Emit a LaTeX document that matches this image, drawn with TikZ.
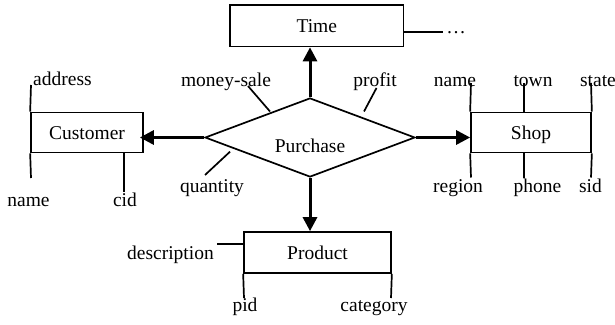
\documentclass[tikz,border=0pt]{standalone}
\usepackage{fontspec}
\setmainfont{Liberation Serif}
\usetikzlibrary{shapes.geometric,arrows.meta}
\begin{document}
\begin{tikzpicture}[x=1pt,y=-1pt,
  font=\fontsize{19.5}{23}\selectfont,
  entity/.style={draw, line width=1.7pt, inner sep=0pt, text height=13pt, text depth=0pt},
  rel/.style={draw, diamond, line width=1.7pt, inner sep=0pt, minimum width=210pt, minimum height=79pt},
  lbl/.style={inner sep=0pt, anchor=base},
  arr/.style={line width=3pt, -{Triangle[length=14pt,width=14pt]}},
  attr/.style={line width=1.7pt}]
\useasboundingbox (0,0) rectangle (615,324);

% entities and relationship
\node[entity, minimum width=173.5pt, minimum height=41.5pt] (time) at (316.75,25.75) {Time};
\node[entity, minimum width=112pt, minimum height=40pt] (cust) at (87,132.5) {Customer};
\node[entity, minimum width=120pt, minimum height=40pt] (shop) at (531,132.5) {Shop};
\node[entity, minimum width=147pt, minimum height=41pt] (prod) at (317.5,252.5) {Product};
\node[rel] (pur) at (310,137.5) {};
\node[lbl] (purt) at (310,152) {Purchase};

% arrows
\draw[arr] (pur.north) -- (pur.north |- time.south);
\draw[arr, shorten >=-4pt] (pur.west) -- (pur.west -| cust.east);
\draw[arr] (pur.east) -- (pur.east -| shop.west);
\draw[arr] (pur.south) -- (pur.south |- prod.north);

% Time attribute
\coordinate (tdots) at (443,32);
\draw[attr] (tdots -| time.east) -- (tdots);
\node[lbl] (ttdots) at (456,33.5) {…};

% relationship attributes
\coordinate (ms1) at (270,111.5); \coordinate (ms2) at (248,86);
\draw[attr] (ms1) -- (ms2);
\node[lbl] (tms) at (226,86) {money-sale};
\coordinate (pf1) at (364,111.5); \coordinate (pf2) at (376.5,88);
\draw[attr] (pf1) -- (pf2);
\node[lbl] (tpf) at (375,86) {profit};
\coordinate (qt1) at (230,151.7); \coordinate (qt2) at (205,175);
\draw[attr] (qt1) -- (qt2);
\node[lbl] (tqt) at (212,192.5) {quantity};

% Customer attributes
\coordinate (caddr) at (31,85);
\draw[attr] (cust.north west) -- (caddr);
\coordinate (cname) at (31,178);
\draw[attr] (cust.south west) -- (cname);
\coordinate (ccid) at (124,192);
\draw[attr] (ccid |- cust.south) -- (ccid);
\node[lbl, anchor=base west] (taddr) at (33,85) {address};
\node[lbl] (tcname) at (28.5,206) {name};
\node[lbl] (tcid) at (125,206) {cid};

% Shop attributes
\coordinate (sname) at (471,83);
\draw[attr] (shop.north west) -- (sname);
\coordinate (stown) at (524,83);
\draw[attr] (stown |- shop.north) -- (stown);
\coordinate (sstate) at (591,83);
\draw[attr] (shop.north east) -- (sstate);
\coordinate (sregion) at (471,177.5);
\draw[attr] (shop.south west) -- (sregion);
\coordinate (sphone) at (524,177.5);
\draw[attr] (sphone |- shop.south) -- (sphone);
\coordinate (ssid) at (591,177.5);
\draw[attr] (shop.south east) -- (ssid);
\node[lbl] (tsname) at (455,86) {name};
\node[lbl] (tstown) at (533,86) {town};
\node[lbl] (tsstate) at (598,86) {state};
\node[lbl] (tsregion) at (458,192) {region};
\node[lbl] (tsphone) at (537.5,192) {phone};
\node[lbl] (tssid) at (590.5,192) {sid};

% Product attributes
\coordinate (pdesc) at (217,244);
\draw[attr] (pdesc -| prod.west) -- (pdesc);
\coordinate (ppid) at (244,298);
\draw[attr] (prod.south west) -- (ppid);
\coordinate (pcat) at (391,298);
\draw[attr] (prod.south east) -- (pcat);
\node[lbl, anchor=base east] (tpdesc) at (214,259) {description};
\node[lbl] (tppid) at (245,311) {pid};
\node[lbl] (tpcat) at (374,311) {category};
\end{tikzpicture}
\end{document}
